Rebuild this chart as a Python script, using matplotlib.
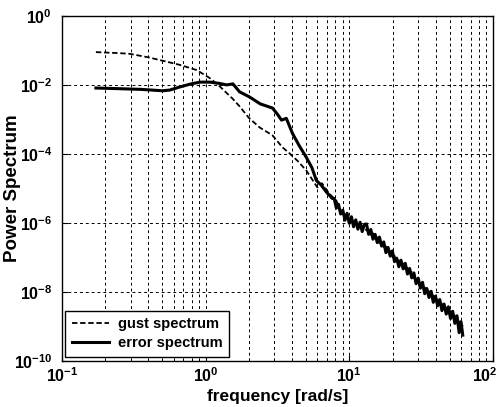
import matplotlib
import matplotlib.pyplot as plt
import matplotlib.transforms as mtransforms
import numpy as np

matplotlib.use('Agg')

# log10 of frequency [rad/s] and log10 of power
gust_logf = [-0.764, -0.60, -0.528, -0.40, -0.319, -0.18, -0.0625, 0.028, 0.10, 0.188,
             0.236, 0.30, 0.375, 0.465, 0.535, 0.583, 0.64, 0.701, 0.778, 0.81,
             0.86, 0.91, 0.925, 0.94, 0.955, 0.97, 0.985, 1.00, 1.015, 1.03,
             1.045, 1.06, 1.075, 1.09, 1.105, 1.12, 1.135, 1.15, 1.165, 1.18,
             1.195, 1.21, 1.225, 1.24, 1.255, 1.27, 1.285, 1.30, 1.315, 1.33,
             1.345, 1.36, 1.375, 1.39, 1.405, 1.42, 1.435, 1.45, 1.465, 1.48,
             1.495, 1.51, 1.525, 1.54, 1.555, 1.57, 1.585, 1.60, 1.615, 1.63,
             1.645, 1.66, 1.675, 1.69, 1.705, 1.72, 1.735, 1.75, 1.765, 1.778,
             1.79]
gust_logp = [-1.05, -1.08, -1.10, -1.20, -1.28, -1.42, -1.57, -1.80, -2.05, -2.40,
             -2.62, -2.95, -3.23, -3.46, -3.81, -3.98, -4.20, -4.48, -4.97, -4.85,
             -5.15, -5.35, -5.52, -5.70, -5.70, -5.84, -5.80, -5.95, -5.92, -6.05,
             -5.98, -6.10, -6.05, -6.15, -6.10, -6.22, -6.20, -6.34, -6.30, -6.45,
             -6.42, -6.58, -6.55, -6.70, -6.68, -6.84, -6.82, -6.98, -6.95, -7.12,
             -7.08, -7.22, -7.18, -7.34, -7.30, -7.46, -7.42, -7.60, -7.56, -7.74,
             -7.70, -7.88, -7.85, -8.02, -7.98, -8.14, -8.10, -8.26, -8.22, -8.38,
             -8.34, -8.50, -8.45, -8.62, -8.55, -8.72, -8.68, -8.88, -8.80, -9.05,
             -8.95]

error_logf = [-0.764, -0.60, -0.45, -0.30, -0.25, -0.18, -0.10, -0.04, 0.03, 0.10,
              0.146, 0.19, 0.236, 0.306, 0.38, 0.465, 0.50, 0.528, 0.562, 0.604,
              0.65, 0.701, 0.74, 0.771, 0.806, 0.84, 0.882, 0.895, 0.91, 0.925,
              0.94, 0.955, 0.97, 0.985, 1.00, 1.015, 1.03, 1.045, 1.06, 1.075,
              1.09, 1.105, 1.12, 1.135, 1.15, 1.165, 1.18, 1.195, 1.21, 1.225,
              1.24, 1.255, 1.27, 1.285, 1.30, 1.315, 1.33, 1.345, 1.36, 1.375,
              1.39, 1.405, 1.42, 1.435, 1.45, 1.465, 1.48, 1.495, 1.51, 1.525,
              1.54, 1.555, 1.57, 1.585, 1.60, 1.615, 1.63, 1.645, 1.66, 1.675,
              1.69, 1.705, 1.72, 1.735, 1.75, 1.765, 1.778, 1.79]
error_logp = [-2.09, -2.11, -2.13, -2.17, -2.15, -2.06, -1.97, -1.92, -1.92, -1.96,
              -2.00, -1.97, -2.20, -2.35, -2.55, -2.67, -2.85, -3.02, -2.97, -3.40,
              -3.75, -4.10, -4.40, -4.77, -4.91, -5.10, -5.29, -5.29, -5.57, -5.46,
              -5.74, -5.63, -5.92, -5.72, -6.01, -5.82, -6.11, -5.91, -6.18, -5.98,
              -6.25, -6.04, -6.03, -6.33, -6.19, -6.47, -6.33, -6.57, -6.41, -6.67,
              -6.55, -6.86, -6.71, -6.96, -6.81, -7.12, -7.02, -7.27, -7.08, -7.33,
              -7.17, -7.48, -7.32, -7.59, -7.45, -7.76, -7.60, -7.89, -7.72, -8.05,
              -7.90, -8.16, -7.98, -8.30, -8.12, -8.40, -8.22, -8.54, -8.35, -8.64,
              -8.43, -8.77, -8.56, -8.91, -8.69, -9.18, -8.86, -9.25]

y_ticks = [1e0, 1e-2, 1e-4, 1e-6, 1e-8, 1e-10]

plt.rcParams['font.family'] = ['Liberation Sans', 'DejaVu Sans']
plt.rcParams['font.weight'] = 'bold'
plt.rcParams['mathtext.fontset'] = 'custom'
plt.rcParams['mathtext.rm'] = 'Liberation Sans:bold'
plt.rcParams['mathtext.default'] = 'rm'

fig = plt.figure(figsize=(5.04, 4.07), dpi=100)
ax = fig.add_axes([0.123, 0.113, 0.855, 0.848])

ax.plot(10 ** np.array(error_logf), 10 ** np.array(error_logp), color='black', lw=2.2,
        label='error spectrum', zorder=3)
ax.plot(10 ** np.array(gust_logf), 10 ** np.array(gust_logp), color='black', lw=1.3,
        ls=(0, (3, 1.5)), label='gust spectrum', zorder=4)

ax.set_xscale('log')
ax.set_yscale('log')
ax.set_xlim(1e-1, 1e2)
ax.set_ylim(1e-10, 1e0)
ax.set_yticks(y_ticks)
ax.yaxis.set_minor_locator(matplotlib.ticker.NullLocator())

ax.grid(True, which='major', axis='both', color='black', ls=(0, (3, 3)), lw=0.7)
ax.grid(True, which='minor', axis='x', color='black', ls=(0, (3, 3)), lw=0.7)
ax.tick_params(which='both', direction='in', labelsize=11.5, top=False, right=False)
ax.tick_params(axis='y', which='major', length=4, pad=7)
ax.tick_params(axis='x', which='major', length=4, pad=4)
ax.tick_params(which='minor', length=2.5)
for s in ax.spines.values():
    s.set_linewidth(1.0)

ax.set_xlabel('frequency [rad/s]', fontsize=12.5, fontweight='bold', labelpad=3)
ax.set_ylabel('Power Spectrum', fontsize=13.5, fontweight='bold')
ax.yaxis.set_label_coords(-0.095, 0.5)

handles, labels = ax.get_legend_handles_labels()
leg = ax.legend(handles[::-1], labels[::-1], loc='lower left', fontsize=10.5,
                bbox_to_anchor=(0.007, 0.012), fancybox=False, edgecolor='black',
                framealpha=1, borderaxespad=0, handlelength=2.6, handletextpad=0.6,
                labelspacing=0.35, borderpad=0.45)
leg.get_frame().set_linewidth(1.0)

# nudge the last x label (10^2) left so it stays inside the figure
fig.canvas.draw()
for tick in ax.xaxis.get_major_ticks():
    if np.isclose(tick.get_loc(), 1e2):
        shift = mtransforms.ScaledTranslation(-6 / 72, 0, fig.dpi_scale_trans)
        tick.label1.set_transform(tick.label1.get_transform() + shift)

fig.savefig('out.png', dpi=100)
